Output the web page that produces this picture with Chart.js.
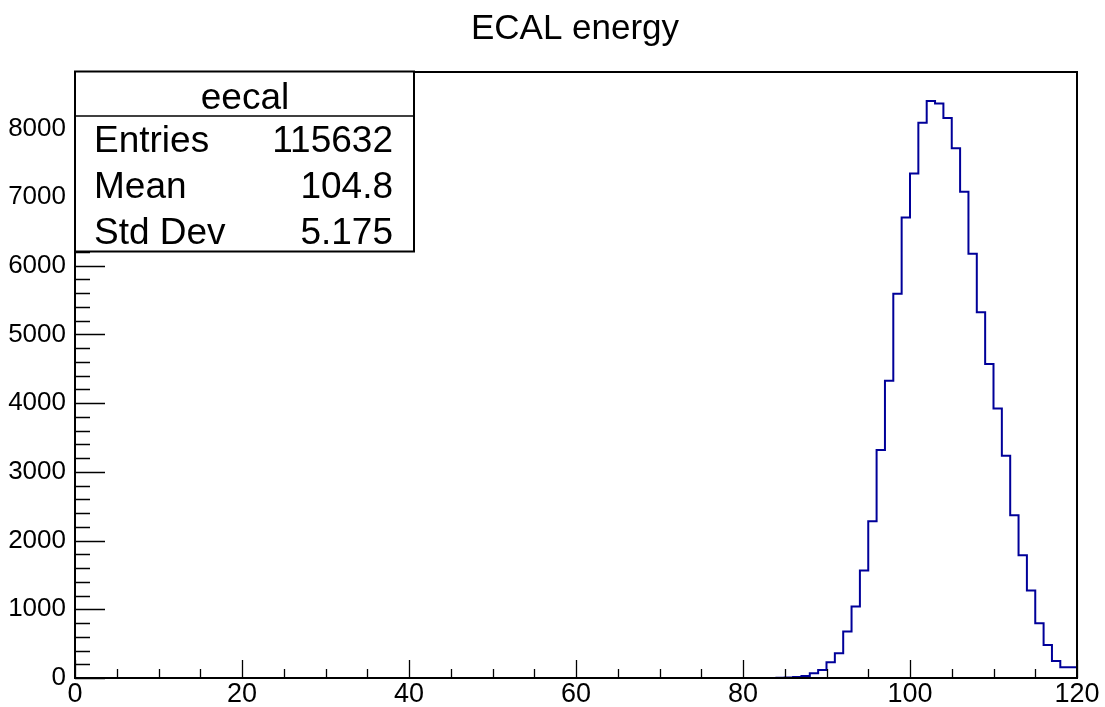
<!DOCTYPE html>
<html>
<head>
<meta charset="utf-8">
<title>ECAL energy</title>
<script src="https://cdn.jsdelivr.net/npm/chart.js@4.4.1/dist/chart.umd.min.js"></script>
<style>
  html, body { margin: 0; padding: 0; background: #fff; }
  #wrap { width: 1105px; height: 707px; }
</style>
</head>
<body>
<div id="wrap"><canvas id="histo" width="1105" height="707"></canvas></div>
<script>
const histName = "eecal";
const histTitle = "ECAL energy";
const xRange = [0, 120];
const binWidth = 1;
const yMax = 8820;
const xTickValues = [0, 20, 40, 60, 80, 100, 120];
const yTickValues = [0, 1000, 2000, 3000, 4000, 5000, 6000, 7000, 8000];

// entries per bin, 120 bins of width 1 from 0 to 120
const counts = [
  0, 0, 0, 0, 0, 0, 0, 0, 0, 0, 0, 0, 0, 0, 0, 0, 0, 0, 0, 0,
  0, 0, 0, 0, 0, 0, 0, 0, 0, 0, 0, 0, 0, 0, 0, 0, 0, 0, 0, 0,
  0, 0, 0, 0, 0, 0, 0, 0, 0, 0, 0, 0, 0, 0, 0, 0, 0, 0, 0, 0,
  0, 0, 0, 0, 0, 0, 0, 0, 0, 0, 0, 0, 0, 0, 0, 0, 0, 0, 0, 0,
  0, 0, 0, 0, 0, 3, 8, 16, 30, 69, 117, 229, 360, 676, 1041, 1566, 2282, 3318, 4326, 5591,
  6701, 7343, 8083, 8399, 8360, 8150, 7710, 7076, 6175, 5324, 4569, 3922, 3236, 2370, 1786, 1275, 798, 482, 248, 156
];

const statLabels = ["Entries", "Mean", "Std Dev"];
const statValues = ["115632", "104.8", "5.175"];

const FONT = "'Liberation Sans', Arial, Helvetica, sans-serif";

// step outline: one point per low bin edge, plus the closing edge
const points = counts.map((c, i) => ({ x: xRange[0] + i * binWidth, y: c }));
points.push({ x: xRange[1], y: counts[counts.length - 1] });

// frame, inward ticks, title and stats box in ROOT style
const rootDecor = {
  id: 'rootDecor',
  afterDatasetsDraw(chart) {
    const { ctx, chartArea: a, scales: { x, y } } = chart;
    ctx.save();
    ctx.strokeStyle = '#000';
    ctx.lineWidth = 1.3;
    ctx.beginPath();
    for (let v = xRange[0]; v <= xRange[1]; v += 5) {
      const px = Math.round(x.getPixelForValue(v)) + 0.5;
      const len = v % 20 === 0 ? 18 : 9;
      ctx.moveTo(px, a.bottom);
      ctx.lineTo(px, a.bottom - len);
    }
    for (let v = 0; v <= yMax; v += 200) {
      const py = Math.round(y.getPixelForValue(v)) + 0.5;
      const len = v % 1000 === 0 ? 30 : 15;
      ctx.moveTo(a.left, py);
      ctx.lineTo(a.left + len, py);
    }
    ctx.stroke();
    ctx.lineWidth = 2;
    ctx.strokeRect(a.left, a.top, a.right - a.left, a.bottom - a.top);
    ctx.restore();
  },
  afterDraw(chart) {
    const { ctx, chartArea: a } = chart;
    ctx.save();
    ctx.fillStyle = '#000';
    ctx.font = `35px ${FONT}`;
    ctx.textAlign = 'center';
    ctx.textBaseline = 'alphabetic';
    ctx.fillText(histTitle, 575, 39);

    // stats box
    const bx = a.left, by = a.top - 0.5, bw = 339, bh = 180;
    ctx.fillStyle = '#fff';
    ctx.fillRect(bx, by, bw, bh);
    ctx.strokeStyle = '#000';
    ctx.lineWidth = 2;
    ctx.strokeRect(bx, by, bw, bh);
    ctx.beginPath();
    ctx.moveTo(bx, by + 44.5);
    ctx.lineTo(bx + bw, by + 44.5);
    ctx.lineWidth = 1.5;
    ctx.stroke();

    ctx.fillStyle = '#000';
    ctx.font = `37px ${FONT}`;
    ctx.textAlign = 'center';
    ctx.fillText(histName, bx + 170, 109);
    const rowBase = [152, 198, 244];
    statLabels.forEach((lab, i) => {
      ctx.textAlign = 'left';
      ctx.fillText(lab, bx + 19, rowBase[i]);
      ctx.textAlign = 'right';
      ctx.fillText(statValues[i], bx + 318, rowBase[i]);
    });
    ctx.restore();
  }
};

new Chart(document.getElementById('histo'), {
  type: 'line',
  data: {
    datasets: [{
      label: histName,
      data: points,
      stepped: 'after',
      borderColor: '#000099',
      borderWidth: 2,
      pointRadius: 0,
      fill: false,
      tension: 0
    }]
  },
  options: {
    responsive: false,
    animation: false,
    devicePixelRatio: 1,
    layout: { padding: { left: 0, right: 28, top: 72, bottom: 0 } },
    plugins: { legend: { display: false }, tooltip: { enabled: false }, title: { display: false } },
    scales: {
      x: {
        type: 'linear',
        min: xRange[0],
        max: xRange[1],
        grid: { display: false, drawTicks: false },
        border: { display: false },
        afterFit: s => { s.height = 29; },
        afterBuildTicks: s => { s.ticks = xTickValues.map(v => ({ value: v })); },
        ticks: {
          autoSkip: false,
          maxRotation: 0,
          padding: 0,
          color: '#000',
          callback: v => String(v),
          font: { family: FONT, size: 27 }
        }
      },
      y: {
        min: 0,
        max: yMax,
        grid: { display: false, drawTicks: false },
        border: { display: false },
        afterFit: s => { s.width = 75; },
        afterBuildTicks: s => { s.ticks = yTickValues.map(v => ({ value: v })); },
        ticks: {
          autoSkip: false,
          padding: 9,
          color: '#000',
          callback: v => String(v),
          font: { family: FONT, size: 26 }
        }
      }
    }
  },
  plugins: [rootDecor]
});
</script>
</body>
</html>
